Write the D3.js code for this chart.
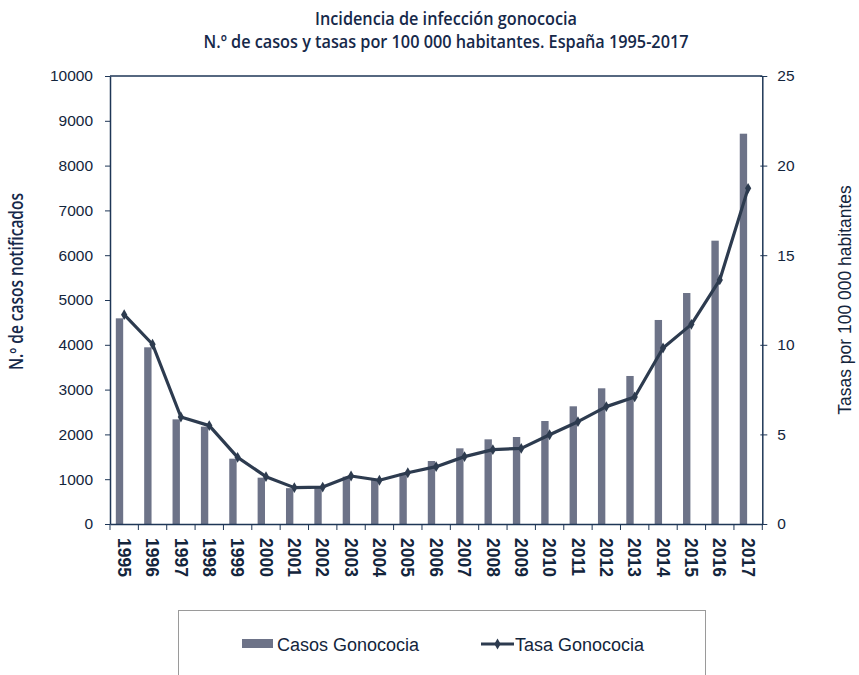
<!DOCTYPE html>
<html>
<head>
<meta charset="utf-8">
<script src="https://cdn.jsdelivr.net/npm/d3@7"></script>
<style>
  body { margin: 0; background: #fff; }
  .axis text { font-family: "Liberation Sans", Arial, sans-serif; fill: #13253c; }
  .axis path, .axis line { stroke: #1e3656; }
</style>
</head>
<body>
<div id="chart"></div>
<script>
// data
var years = ["1995","1996","1997","1998","1999","2000","2001","2002","2003","2004","2005","2006",
             "2007","2008","2009","2010","2011","2012","2013","2014","2015","2016","2017"];
var casos = [4591, 3944, 2336, 2173, 1458, 1034, 800, 830, 1056, 982, 1131, 1406,
             1689, 1890, 1942, 2299, 2627, 3029, 3304, 4554, 5156, 6324, 8712];
var tasas = [11.68, 10.03, 5.97, 5.49, 3.72, 2.64, 2.03, 2.06, 2.68, 2.44, 2.86, 3.20,
             3.76, 4.15, 4.22, 4.98, 5.71, 6.55, 7.09, 9.82, 11.14, 13.62, 18.73];
var casosTicks = [0, 1000, 2000, 3000, 4000, 5000, 6000, 7000, 8000, 9000, 10000];
var tasasTicks = [0, 5, 10, 15, 20, 25];

var width = 859, height = 675;
var margin = {top: 76, right: 96.7, bottom: 151, left: 110};

var barColor = "#6d7388";
var lineColor = "#2d3b4f";
var axisColor = "#1e3656";
var textColor = "#13253c";
var condensed = '"Open Sans", "Noto Sans", sans-serif';

var data = years.map(function(y, i) { return {year: y, casos: casos[i], tasa: tasas[i]}; });

var svg = d3.select("#chart")
  .append("svg")
  .attr("width", width)
  .attr("height", height);

// Scales

var xScale = d3.scaleBand()
    .domain(years)
    .range([margin.left, width - margin.right])
    .padding(0);

var yScale = d3.scaleLinear()
    .domain([0, 10000])
    .range([height - margin.bottom, margin.top]);

var y2Scale = d3.scaleLinear()
    .domain([0, 25])
    .range([height - margin.bottom, margin.top]);

var bw = xScale.bandwidth();

// Bars (Excel style, sitting left of the band centre)

svg.selectAll(".bar")
    .data(data)
    .enter().append("rect")
    .attr("class", "bar")
    .attr("x", d => xScale(d.year) + bw * 0.205)
    .attr("width", bw * 0.26)
    .attr("y", d => yScale(d.casos))
    .attr("height", d => yScale(0) - yScale(d.casos))
    .attr("fill", barColor);

// Frame top

svg.append("line")
    .attr("x1", margin.left).attr("x2", width - margin.right)
    .attr("y1", margin.top).attr("y2", margin.top)
    .attr("stroke", axisColor).attr("stroke-width", 1.5);

// Axes

var yAxis = svg.append("g")
    .attr("class", "axis")
    .attr("transform", `translate(${margin.left}, 0)`)
    .call(d3.axisLeft(yScale).tickValues(casosTicks).tickFormat(d3.format("d")).tickSize(5).tickPadding(12).tickSizeOuter(0));
yAxis.selectAll("text").style("font-size", "15.5px");

var y2Axis = svg.append("g")
    .attr("class", "axis")
    .attr("transform", `translate(${width - margin.right}, 0)`)
    .call(d3.axisRight(y2Scale).tickValues(tasasTicks).tickSize(5).tickPadding(10).tickSizeOuter(0));
y2Axis.selectAll("text").style("font-size", "15.5px");
y2Axis.selectAll(".tick line").attr("x1", -2);

var xAxis = svg.append("g")
    .attr("class", "axis")
    .attr("transform", `translate(0, ${height - margin.bottom})`)
    .call(d3.axisBottom(xScale).tickSize(0).tickSizeOuter(0));
xAxis.selectAll("text")
    .attr("transform", "rotate(90)")
    .attr("x", 14)
    .attr("y", 0)
    .attr("dy", "0.36em")
    .style("text-anchor", "start")
    .style("font-size", "17.5px")
    .style("font-weight", "bold");

// ticks between the categories
xAxis.selectAll(".sep")
    .data(years.concat(["end"]))
    .enter().append("line")
    .attr("class", "sep")
    .attr("x1", (d, i) => margin.left + i * bw)
    .attr("x2", (d, i) => margin.left + i * bw)
    .attr("y1", 0).attr("y2", 6)
    .attr("stroke", axisColor);

svg.selectAll(".axis .domain").attr("stroke-width", 1.5);

// Line

var line = d3.line()
    .x(d => xScale(d.year) + bw / 2)
    .y(d => y2Scale(d.tasa));

svg.append("path")
    .datum(data)
    .attr("d", line)
    .attr("fill", "none")
    .attr("stroke", lineColor)
    .attr("stroke-width", 3.2)
    .attr("stroke-linejoin", "round");

var diamond = d3.symbol().type(d3.symbolDiamond).size(34);

svg.selectAll(".dot")
    .data(data)
    .enter().append("path")
    .attr("class", "dot")
    .attr("d", diamond)
    .attr("transform", d => `translate(${xScale(d.year) + bw / 2}, ${y2Scale(d.tasa)})`)
    .attr("fill", lineColor);

// Titles

svg.append("text")
    .attr("x", 446).attr("y", 25)
    .attr("text-anchor", "middle")
    .attr("textLength", 262).attr("lengthAdjust", "spacingAndGlyphs")
    .style("font-family", condensed)
    .style("font-size", "18px")
    .style("font-weight", 600)
    .attr("fill", "#16294a")
    .text("Incidencia de infección gonococia");

svg.append("text")
    .attr("x", 446).attr("y", 48)
    .attr("text-anchor", "middle")
    .attr("textLength", 485).attr("lengthAdjust", "spacingAndGlyphs")
    .style("font-family", condensed)
    .style("font-size", "18px")
    .style("font-weight", 600)
    .attr("fill", "#16294a")
    .text("N.º de casos y tasas por 100 000 habitantes. España 1995-2017");

svg.append("text")
    .attr("transform", "translate(23, 281.5) rotate(-90)")
    .attr("text-anchor", "middle")
    .attr("textLength", 177).attr("lengthAdjust", "spacingAndGlyphs")
    .style("font-family", condensed)
    .style("font-size", "19px")
    .style("font-weight", 600)
    .attr("fill", "#16294a")
    .text("N.º de casos notificados");

svg.append("text")
    .attr("transform", "translate(851, 300) rotate(-90)")
    .attr("text-anchor", "middle")
    .style("font-family", '"Liberation Sans", Arial, sans-serif')
    .style("font-size", "17.5px")
    .attr("fill", textColor)
    .text("Tasas por 100 000 habitantes");

// Legend

svg.append("rect")
    .attr("x", 178.5).attr("y", 610.5)
    .attr("width", 527).attr("height", 80)
    .attr("fill", "none")
    .attr("stroke", "#9a9a9a");

svg.append("rect")
    .attr("x", 242).attr("y", 639)
    .attr("width", 31).attr("height", 9)
    .attr("fill", barColor);

svg.append("text")
    .attr("x", 277).attr("y", 651)
    .style("font-family", '"Liberation Sans", Arial, sans-serif')
    .style("font-size", "18px")
    .attr("fill", textColor)
    .text("Casos Gonococia");

svg.append("line")
    .attr("x1", 481).attr("x2", 514)
    .attr("y1", 644).attr("y2", 644)
    .attr("stroke", lineColor).attr("stroke-width", 3);

svg.append("path")
    .attr("d", diamond)
    .attr("transform", "translate(497.5, 644)")
    .attr("fill", lineColor);

svg.append("text")
    .attr("x", 515).attr("y", 651)
    .style("font-family", '"Liberation Sans", Arial, sans-serif')
    .style("font-size", "18px")
    .attr("fill", textColor)
    .text("Tasa Gonococia");
</script>
</body>
</html>
